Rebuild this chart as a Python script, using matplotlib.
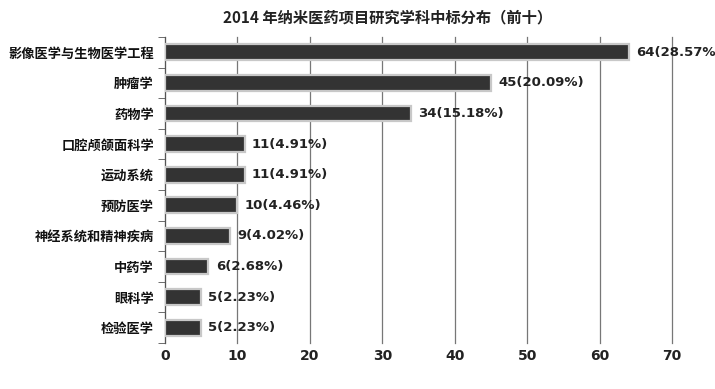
import matplotlib
matplotlib.use("Agg")
import matplotlib.pyplot as plt
import numpy as np

plt.rcParams['font.family'] = ['Noto Sans CJK SC', 'DejaVu Sans']

subjects = ["影像医学与生物医学工程", "肿瘤学", "药物学", "口腔颅颌面科学", "运动系统",
            "预防医学", "神经系统和精神疾病", "中药学", "眼科学", "检验医学"]
counts = [64, 45, 34, 11, 11, 10, 9, 6, 5, 5]
percents = ["28.57%", "20.09%", "15.18%", "4.91%", "4.91%",
            "4.46%", "4.02%", "2.68%", "2.23%", "2.23%"]
xticks = [0, 10, 20, 30, 40, 50, 60, 70]

fig = plt.figure(figsize=(7.15, 3.89), dpi=100)
ax = fig.add_axes([165/715, 1 - 343/389, 507/715, 306/389])

y = np.arange(len(subjects))
ax.barh(y, counts, height=0.52, color="#333333", edgecolor="#c8c8c8", linewidth=1.6, zorder=3)
for yi, c, p in zip(y, counts, percents):
    ax.text(c + 1.0, yi, "{}({})".format(c, p), va="center", ha="left",
            fontsize=9.5, fontweight="bold", color="#222222", family="DejaVu Sans",
            clip_on=False, zorder=4)

ax.set_xlim(0, 70)
ax.set_ylim(len(subjects) - 0.5, -0.5)
ax.set_xticks(xticks)
ax.set_xticklabels([str(t) for t in xticks], fontsize=10, fontweight="bold",
                   color="#222222", family="DejaVu Sans")
ax.set_yticks(y)
ax.set_yticklabels(subjects, fontsize=9.5, color="#111111", fontweight="bold")
ax.set_yticks(np.arange(len(subjects) + 1) - 0.5, minor=True)
ax.tick_params(axis="y", which="major", length=0, pad=8)
ax.tick_params(axis="y", which="minor", length=5, color="#555555")
ax.tick_params(axis="x", length=0, pad=4)

ax.grid(axis="x", color="#777777", linewidth=0.9, zorder=0)
for gl in ax.get_xgridlines():
    gl.set_clip_on(False)
for s in ["top", "right", "bottom"]:
    ax.spines[s].set_visible(False)
ax.spines["left"].set_color("#555555")

fig.text(388/715, 1 - 17/389, "2014 年纳米医药项目研究学科中标分布（前十）",
         ha="center", va="center", fontsize=11, fontweight="bold", color="#222222")

fig.savefig("out.png", dpi=100)
